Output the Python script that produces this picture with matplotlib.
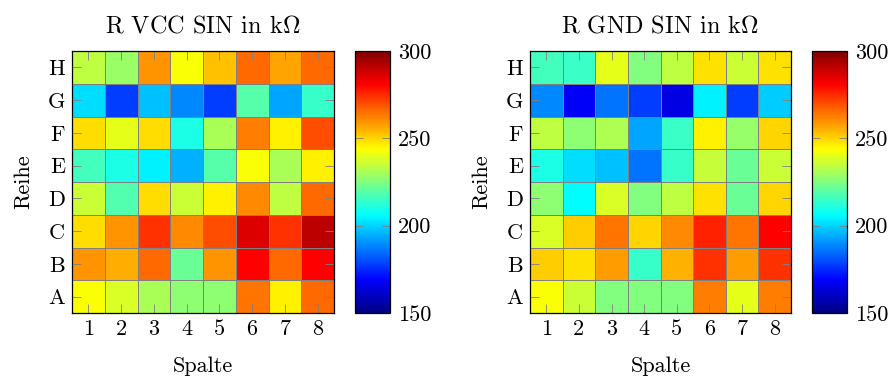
import matplotlib
matplotlib.use("Agg")
import matplotlib.pyplot as plt
import numpy as np
from matplotlib.colors import LinearSegmentedColormap

plt.rcParams['font.family'] = 'cmr10'
plt.rcParams['mathtext.fontset'] = 'cm'
plt.rcParams['axes.formatter.use_mathtext'] = True
plt.rcParams['font.size'] = 16

cols = ["1", "2", "3", "4", "5", "6", "7", "8"]
rows = ["A", "B", "C", "D", "E", "F", "G", "H"]

# values in kOhm, rows A..H (bottom to top), columns 1..8
r_vcc = [
    [243, 238, 231, 227, 227, 264, 246, 266],  # A
    [259, 256, 266, 222, 259, 281, 266, 281],  # B
    [249, 259, 274, 261, 270, 286, 274, 291],  # C
    [236, 218, 249, 236, 246, 261, 234, 266],  # D
    [216, 210, 204, 195, 219, 243, 231, 246],  # E
    [249, 240, 249, 210, 231, 263, 246, 270],  # F
    [201, 178, 197, 189, 178, 219, 193, 214],  # G
    [234, 229, 259, 243, 253, 266, 257, 266],  # H
]
r_gnd = [
    [243, 236, 225, 225, 225, 263, 240, 263],  # A
    [251, 248, 258, 214, 255, 274, 258, 274],  # B
    [238, 251, 264, 250, 261, 276, 264, 281],  # C
    [227, 206, 238, 225, 234, 248, 222, 250],  # D
    [210, 201, 197, 186, 214, 235, 222, 236],  # E
    [234, 227, 232, 193, 215, 246, 228, 250],  # F
    [189, 168, 186, 178, 165, 204, 178, 199],  # G
    [216, 215, 240, 225, 234, 248, 236, 248],  # H
]
titles = [r"R VCC SIN in k$\Omega$", r"R GND SIN in k$\Omega$"]
cbar_ticks = [150, 200, 250, 300]

# pgfplots style jet
jet = LinearSegmentedColormap.from_list("pgfjet", [
    (0.0, (0, 0, 0.5)), (1/8, (0, 0, 1)), (3/8, (0, 1, 1)),
    (5/8, (1, 1, 0)), (7/8, (1, 0, 0)), (1.0, (0.5, 0, 0))])

W, H = 895, 378
fig = plt.figure(figsize=(W/100, H/100), dpi=100)

def box(x0, x1, ytop, ybot):
    return [x0/W, (H-ybot)/H, (x1-x0)/W, (ybot-ytop)/H]

layouts = [((72, 334), (355, 390)), ((530, 791), (812, 847))]
ytop, ybot = 51, 313

for data, title, ((ax0, ax1), (cx0, cx1)) in zip([r_vcc, r_gnd], titles, layouts):
    ax = fig.add_axes(box(ax0, ax1, ytop, ybot))
    edges = np.arange(0.5, 9.5, 1)
    mesh = ax.pcolormesh(edges, edges, np.array(data), cmap=jet, vmin=150, vmax=300,
                         edgecolors="gray", linewidth=0.6)
    ax.set_xlim(0.5, 8.5)
    ax.set_ylim(0.5, 8.5)
    ax.set_xticks(range(1, 9))
    ax.set_xticklabels(cols)
    ax.set_yticks(range(1, 9))
    ax.set_yticklabels(rows)
    ax.tick_params(direction="in", top=True, right=True, color="gray",
                   length=6.5, width=0.6, pad=5)
    ax.set_xlabel("Spalte", labelpad=12)
    ax.set_ylabel("Reihe", labelpad=10)
    ax.set_title(title, pad=13, fontsize=17.5)
    for s in ax.spines.values():
        s.set_linewidth(0.9)

    cax = fig.add_axes(box(cx0, cx1, ytop, ybot))
    cb = fig.colorbar(mesh, cax=cax, ticks=cbar_ticks)
    cb.outline.set_linewidth(0.9)
    cax.tick_params(direction="in", left=True, right=True, color="gray",
                    length=6, width=0.6, pad=6)
    cax.set_yticklabels([str(t) for t in cbar_ticks])

fig.savefig("out.png", dpi=100)
